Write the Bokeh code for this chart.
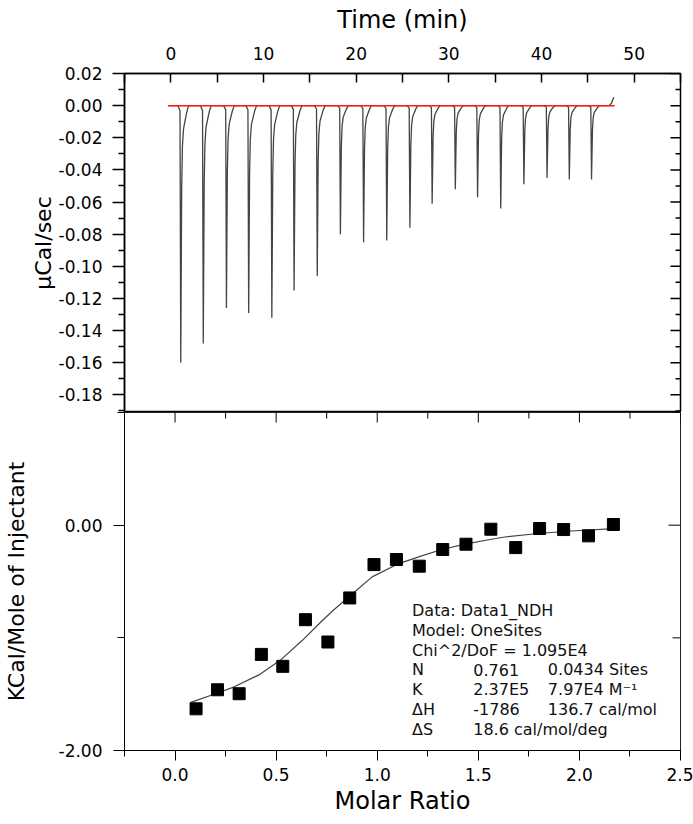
import math
from bokeh.plotting import figure
from bokeh.layouts import column
from bokeh.models import Range1d, LinearAxis, FixedTicker, NumeralTickFormatter, Label
from bokeh.embed import file_html
from bokeh.resources import INLINE

# ---------------- data ----------------
# upper panel: raw thermogram
INJ_TIME = [1.07, 3.5, 6.0, 8.4, 10.9, 13.3, 15.8, 18.3, 20.8, 23.3,
            25.8, 28.2, 30.7, 33.1, 35.6, 38.1, 40.6, 43.0, 45.4]
PEAK_DEPTH = [-0.160, -0.148, -0.126, -0.129, -0.132, -0.115, -0.106, -0.080, -0.085, -0.084,
              -0.076, -0.061, -0.052, -0.057, -0.064, -0.049, -0.045, -0.046, -0.046]
# shape of one injection peak (time offset in min, fraction of the peak depth)
PEAK_DT = [-0.3, -0.08, 0.0, 0.1, 0.18, 0.3, 0.46, 0.65, 0.85]
PEAK_FRAC = [0.0, 0.02, 1.0, 0.32, 0.16, 0.09, 0.06, 0.025, 0.0]
TRACE_START_T = [-0.2]
TRACE_START_V = [0.0]
TRACE_END_T = [47.3, 47.55, 47.8]
TRACE_END_V = [0.0, 0.0015, 0.0052]
BASELINE_T = [-0.3, 47.9]
BASELINE_V = [0.0, 0.0]

# lower panel: integrated heats and fit
MOLAR_RATIO = [0.104, 0.210, 0.317, 0.427, 0.533, 0.645, 0.756, 0.864, 0.984, 1.095,
               1.208, 1.324, 1.439, 1.562, 1.685, 1.803, 1.922, 2.045, 2.168]
HEAT = [-1.630, -1.461, -1.496, -1.147, -1.253, -0.839, -1.037, -0.646, -0.350, -0.305,
        -0.364, -0.216, -0.169, -0.036, -0.199, -0.030, -0.039, -0.095, 0.006]
FIT_X = [0.075, 0.21, 0.29, 0.42, 0.52, 0.63, 0.73, 0.78, 0.87, 0.975, 1.107, 1.205,
         1.319, 1.434, 1.565, 1.63, 1.795, 1.958, 2.17]
FIT_Y = [-1.575, -1.49, -1.437, -1.324, -1.200, -1.022, -0.844, -0.76, -0.62, -0.459,
         -0.341, -0.281, -0.216, -0.169, -0.125, -0.105, -0.074, -0.052, -0.030]

# ticks
TIME_TICKS = [0, 10, 20, 30, 40, 50]
TIME_MINOR = [-5, 5, 15, 25, 35, 45, 55]
RATE_TICKS = [0.02, 0.0, -0.02, -0.04, -0.06, -0.08, -0.10, -0.12, -0.14, -0.16, -0.18]
RATE_MINOR = [0.01, -0.01, -0.03, -0.05, -0.07, -0.09, -0.11, -0.13, -0.15, -0.17, -0.19]
RATIO_TICKS = [0.0, 0.5, 1.0, 1.5, 2.0, 2.5]
RATIO_MINOR = [-0.25, 0.25, 0.75, 1.25, 1.75, 2.25]
HEAT_TICKS = [0.0, -2.0]
HEAT_MINOR = [1.0, -1.0]

# fit results text
ANNOT_COL1 = ["Data: Data1_NDH", "Model: OneSites", "Chi^2/DoF = 1.095E4", "N", "K", "\u0394H", "\u0394S"]
ANNOT_COL2 = ["", "", "", "0.761", "2.37E5", "-1786", "18.6 cal/mol/deg"]
ANNOT_COL3 = ["", "", "", "0.0434 Sites", "7.97E4 M\u207b\u00b9", "136.7 cal/mol", ""]

# ---------------- styling ----------------
FONT = "DejaVu Sans"
TICK_FS = "17px"
TITLE_FS_H = "24px"
TITLE_FS_V = "22px"
W = 693


def style_axis(ax):
    ax.major_label_text_font = FONT
    ax.major_label_text_font_size = TICK_FS
    ax.major_label_text_color = "black"
    ax.axis_label_text_font = FONT
    ax.axis_label_text_font_style = "normal"
    ax.axis_label_text_color = "black"
    ax.axis_line_color = "black"
    ax.major_tick_line_color = "black"
    ax.minor_tick_line_color = "black"


def inner_ticks(p, xs, ys, angle, length, width):
    # tick marks on the label-less sides, drawn inward from the frame edge
    p.ray(x=xs, y=ys, length=length, length_units="screen", angle=angle,
          line_color="black", line_width=width)


# ---------------- upper panel ----------------
trace_t = list(TRACE_START_T)
trace_v = list(TRACE_START_V)
for t0, d in zip(INJ_TIME, PEAK_DEPTH):
    for dt, f in zip(PEAK_DT, PEAK_FRAC):
        trace_t.append(t0 + dt)
        trace_v.append(d * f)
trace_t += TRACE_END_T
trace_v += TRACE_END_V

x1 = Range1d(-5, 55)
y1 = Range1d(-0.191, 0.02)
p1 = figure(width=W, height=412, output_backend="svg", toolbar_location=None,
            x_range=x1, y_range=y1,
            x_axis_location=None, y_axis_location="left",
            min_border_left=122, min_border_right=13, min_border_top=73, min_border_bottom=0)
p1.grid.visible = False
p1.outline_line_color = "black"
p1.outline_line_width = 1.5
p1.background_fill_color = "white"
p1.border_fill_color = "white"

p1.line(trace_t, trace_v, line_color="#444444", line_width=1.3)
p1.line(BASELINE_T, BASELINE_V, line_color="#ff1a1a", line_width=1.5)

inner_ticks(p1, [x1.end] * len(RATE_TICKS), RATE_TICKS, math.pi, 10, 1.5)
inner_ticks(p1, [x1.end] * len(RATE_MINOR), RATE_MINOR, math.pi, 5, 1.5)

ly = p1.yaxis[0]
ly.ticker = FixedTicker(ticks=RATE_TICKS, minor_ticks=RATE_MINOR)
ly.formatter = NumeralTickFormatter(format="0.00")
style_axis(ly)
ly.axis_label = "\u03bcCal/sec"
ly.axis_label_text_font_size = TITLE_FS_V
ly.axis_label_standoff = 0
ly.major_label_standoff = 10
ly.major_tick_in = 0
ly.major_tick_out = 12
ly.minor_tick_in = 0
ly.minor_tick_out = 6
ly.axis_line_width = 1.5
ly.major_tick_line_width = 1.5
ly.minor_tick_line_width = 1.5

top = LinearAxis(ticker=FixedTicker(ticks=TIME_TICKS, minor_ticks=TIME_MINOR),
                 axis_label="Time (min)")
style_axis(top)
top.axis_label_text_font_size = TITLE_FS_H
top.axis_label_standoff = 10
top.major_label_standoff = 14
top.major_tick_in = 9
top.major_tick_out = 0
top.minor_tick_in = 9
top.minor_tick_out = 0
top.axis_line_width = 1.5
top.major_tick_line_width = 1.5
top.minor_tick_line_width = 1.5
p1.add_layout(top, "above")

# ---------------- lower panel ----------------
x2 = Range1d(-0.25, 2.5)
y2 = Range1d(-2.0, 1.0)
p2 = figure(width=W, height=412, output_backend="svg", toolbar_location=None,
            x_range=x2, y_range=y2,
            x_axis_location="below", y_axis_location="left",
            min_border_left=122, min_border_right=13, min_border_top=0, min_border_bottom=74)
p2.grid.visible = False
p2.outline_line_color = "#222222"
p2.outline_line_width = 1
p2.background_fill_color = "white"
p2.border_fill_color = "white"

p2.line(FIT_X, FIT_Y, line_color="#444444", line_width=1.2)
p2.scatter(MOLAR_RATIO, HEAT, marker="square", size=12, fill_color="black", line_color="black")

inner_ticks(p2, RATIO_TICKS, [y2.end] * len(RATIO_TICKS), -math.pi / 2, 10, 1)
inner_ticks(p2, RATIO_MINOR, [y2.end] * len(RATIO_MINOR), -math.pi / 2, 6, 1)
inner_ticks(p2, [x2.end] * len(HEAT_TICKS), HEAT_TICKS, math.pi, 12, 1)
inner_ticks(p2, [x2.end] * len(HEAT_MINOR), HEAT_MINOR, math.pi, 8, 1)

bx = p2.xaxis[0]
bx.ticker = FixedTicker(ticks=RATIO_TICKS, minor_ticks=RATIO_MINOR)
bx.formatter = NumeralTickFormatter(format="0.0")
style_axis(bx)
bx.axis_label = "Molar Ratio"
bx.axis_label_text_font_size = TITLE_FS_H
bx.axis_label_standoff = 3
bx.major_label_standoff = 7
bx.major_tick_in = 0
bx.major_tick_out = 10
bx.minor_tick_in = 0
bx.minor_tick_out = 6

ly2 = p2.yaxis[0]
ly2.ticker = FixedTicker(ticks=HEAT_TICKS, minor_ticks=HEAT_MINOR)
ly2.formatter = NumeralTickFormatter(format="0.00")
style_axis(ly2)
ly2.axis_label = "KCal/Mole of Injectant"
ly2.axis_label_text_font_size = TITLE_FS_V
ly2.axis_label_standoff = 27
ly2.major_label_standoff = 11
ly2.major_tick_in = 0
ly2.major_tick_out = 11
ly2.minor_tick_in = 0
ly2.minor_tick_out = 7

ANN_X = [1.172, 1.475, 1.844]
ANN_Y0 = -0.756
ANN_DY = 0.176
for i in range(len(ANNOT_COL1)):
    yv = ANN_Y0 - i * ANN_DY
    for xv, txt in zip(ANN_X, (ANNOT_COL1[i], ANNOT_COL2[i], ANNOT_COL3[i])):
        if txt:
            p2.add_layout(Label(x=xv, y=yv, text=txt, text_font=FONT, text_font_size="16px",
                                text_color="#111111", text_baseline="middle", text_align="left"))

layout = column(p1, p2, spacing=0)
open("out.html", "w").write(file_html(layout, INLINE))
